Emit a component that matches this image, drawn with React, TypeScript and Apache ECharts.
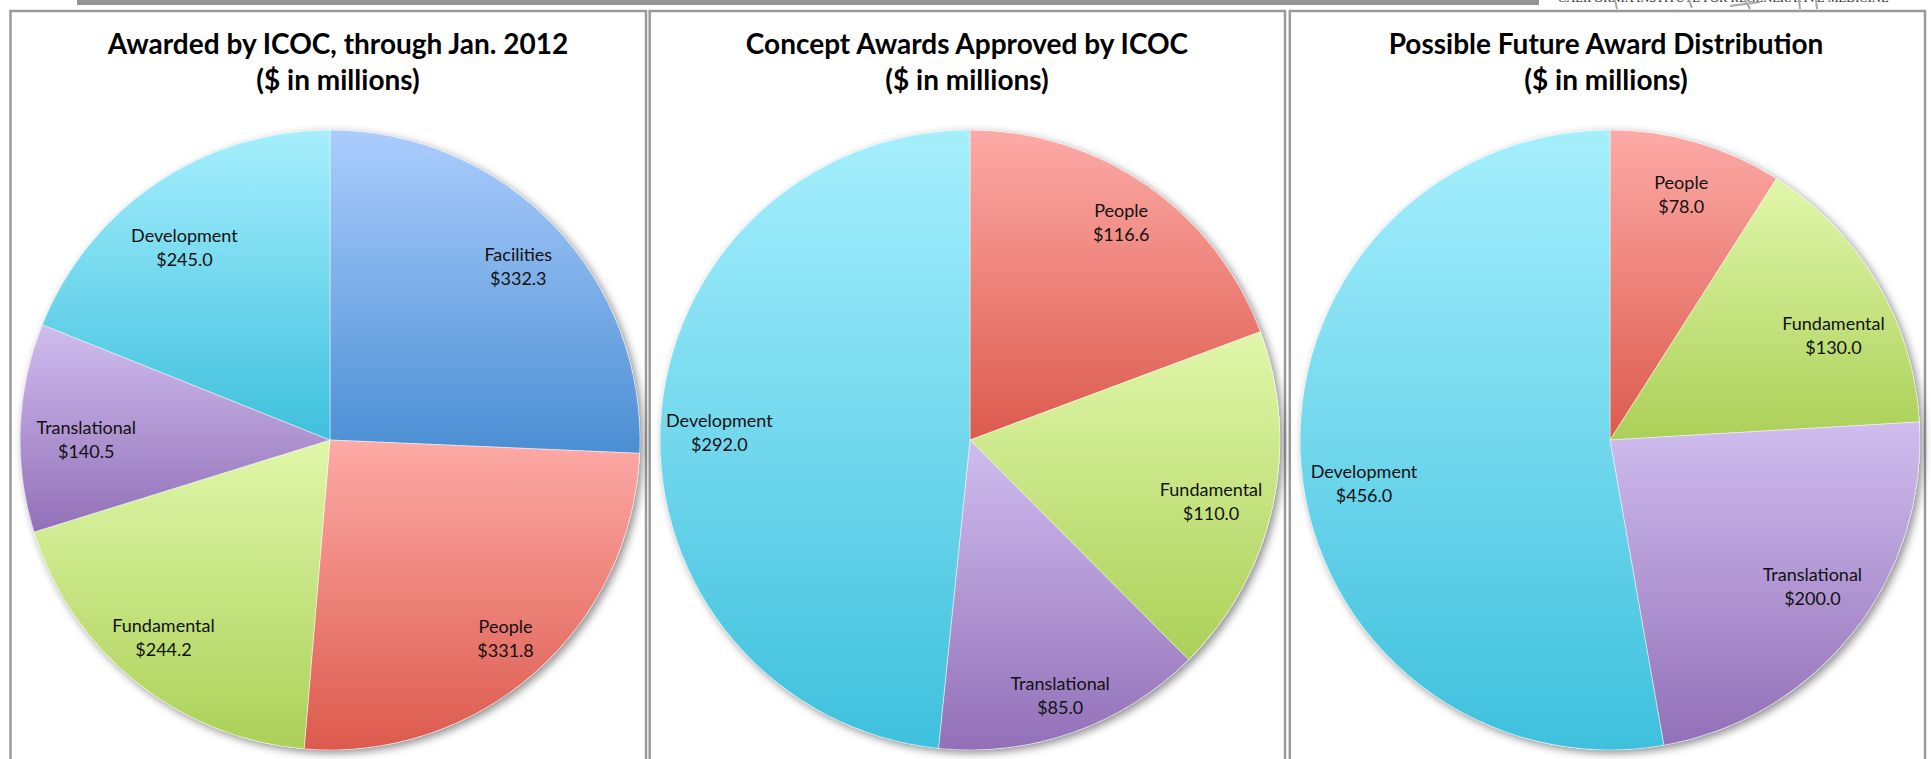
import React, { useEffect, useRef } from "react";
import * as echarts from "echarts";

const awardedNames = ["Facilities", "People", "Fundamental", "Translational", "Development"];
const awardedValues = [332.3, 331.8, 244.2, 140.5, 245.0];

const conceptNames = ["People", "Fundamental", "Translational", "Development"];
const conceptValues = [116.6, 110.0, 85.0, 292.0];

const futureNames = ["People", "Fundamental", "Translational", "Development"];
const futureValues = [78.0, 130.0, 200.0, 456.0];

const titleLine1 = [
  "Awarded by ICOC, through Jan. 2012",
  "Concept Awards Approved by ICOC",
  "Possible Future Award Distribution",
];
const titleLine2 = "($ in millions)";

// label nudges (style only), per pie, per slice
const labelNudges: number[][][] = [
  [[2, 4], [5, 4], [-5, -4], [14, 9], [-1, 21]],
  [[4, -6], [-11, 6], [4, 12], [7, 5]],
  [[-1, 2], [1, 26], [0, -14], [11, 21]],
];

const gradients: Record<string, [string, string]> = {
  Facilities: ["#abcdfd", "#4b8ed3"],
  People: ["#fdaaa6", "#dc5a4d"],
  Fundamental: ["#e0f7aa", "#abd058"],
  Translational: ["#d0bdee", "#9270b8"],
  Development: ["#a6effd", "#3ec0dd"],
};

const FONT = "Lato, 'Noto Sans', sans-serif";

function grad(name: string) {
  const [a, b] = gradients[name];
  return {
    type: "linear",
    x: 0,
    y: 0,
    x2: 0,
    y2: 1,
    colorStops: [
      { offset: 0, color: a },
      { offset: 1, color: b },
    ],
  };
}

export default function App() {
  const ref = useRef<HTMLDivElement>(null);

  useEffect(() => {
    if (!ref.current) return;
    const chart = echarts.init(ref.current, null, { renderer: "svg" });

    const R = 310;
    const pies = [
      { names: awardedNames, values: awardedValues, cx: 330, title: titleLine1[0], tx: 338 },
      { names: conceptNames, values: conceptValues, cx: 970, title: titleLine1[1], tx: 967 },
      { names: futureNames, values: futureValues, cx: 1610, title: titleLine1[2], tx: 1606 },
    ];
    const cy = 440;

    const series: any[] = [];
    pies.forEach((p, pi) => {
      series.push({
        type: "pie",
        center: [p.cx, cy],
        radius: [0, R],
        silent: true,
        label: { show: false },
        labelLine: { show: false },
        data: [
          {
            value: 1,
            itemStyle: {
              color: "#ffffff",
              shadowBlur: 9,
              shadowColor: "rgba(0,0,0,0.45)",
              shadowOffsetX: 3,
              shadowOffsetY: 3,
            },
          },
        ],
      });
      series.push({
        type: "pie",
        center: [p.cx, cy],
        radius: [0, R],
        startAngle: 90,
        clockwise: true,
        silent: true,
        label: { show: false },
        labelLine: { show: false },
        itemStyle: { borderWidth: 1, borderColor: "rgba(255,255,255,0.45)" },
        data: p.names.map((n, i) => ({
          name: n,
          value: p.values[i],
          itemStyle: { color: grad(n) },
        })),
      });
      series.push({
        type: "pie",
        center: [p.cx, cy],
        radius: [200, R],
        startAngle: 90,
        clockwise: true,
        silent: true,
        avoidLabelOverlap: false,
        itemStyle: { color: "rgba(0,0,0,0)", borderWidth: 0 },
        labelLine: { show: false },
        label: {
          show: true,
          position: "inside",
          color: "#111",
          fontFamily: FONT,
          fontSize: 18,
          lineHeight: 24,
          align: "center",
          formatter: (q: any) => `${q.name}\n$${Number(q.value).toFixed(1)}`,
        },
        data: p.names.map((n, i) => ({
          name: n,
          value: p.values[i],
          label: { offset: labelNudges[pi][i] },
        })),
      });
    });

    const graphics: any[] = [];
    graphics.push({
      type: "rect",
      shape: { x: 77, y: 0, width: 1462, height: 5 },
      style: { fill: "#959595" },
      silent: true,
    });
    graphics.push({
      type: "text",
      x: 1558,
      y: 4,
      style: {
        text: "CALIFORNIA INSTITUTE FOR REGENERATIVE MEDICINE",
        font: "12.5px 'Liberation Serif', serif",
        fill: "#333",
        textAlign: "left",
        textVerticalAlign: "bottom",
      },
      silent: true,
    });
    [
      [1615, 0, 1617, 9],
      [1689, 0, 1692, 8],
      [1730, 6, 1760, 2],
      [1745, 0, 1750, 9],
      [1799, 0, 1800, 9],
      [1816, 0, 1817, 9],
    ].forEach(([x1, y1, x2, y2]) => {
      graphics.push({
        type: "line",
        shape: { x1, y1, x2, y2 },
        style: { stroke: "#a8a8a8", lineWidth: 2 },
        silent: true,
      });
    });
    [
      [10.5, 646],
      [649.7, 1285],
      [1289.8, 1925],
    ].forEach(([x1, x2]) => {
      graphics.push({
        type: "rect",
        shape: { x: x1, y: 11, width: x2 - x1, height: 900 },
        style: { fill: "none", stroke: "#9a9a9a", lineWidth: 2.5 },
        silent: true,
      });
    });
    pies.forEach((p) => {
      graphics.push({
        type: "text",
        x: p.tx,
        y: 43,
        style: {
          text: p.title,
          font: `bold 28px ${FONT}`,
          fill: "#000",
          textAlign: "center",
          textVerticalAlign: "middle",
        },
        silent: true,
      });
      graphics.push({
        type: "text",
        x: p.tx,
        y: 79,
        style: {
          text: titleLine2,
          font: `bold 28px ${FONT}`,
          fill: "#000",
          textAlign: "center",
          textVerticalAlign: "middle",
        },
        silent: true,
      });
    });

    chart.setOption({
      animation: false,
      backgroundColor: "#ffffff",
      series,
      graphic: { elements: graphics },
    });

    return () => chart.dispose();
  }, []);

  return (
    <div
      ref={ref}
      style={{ position: "absolute", left: 0, top: 0, width: "1931px", height: "759px" }}
    />
  );
}
